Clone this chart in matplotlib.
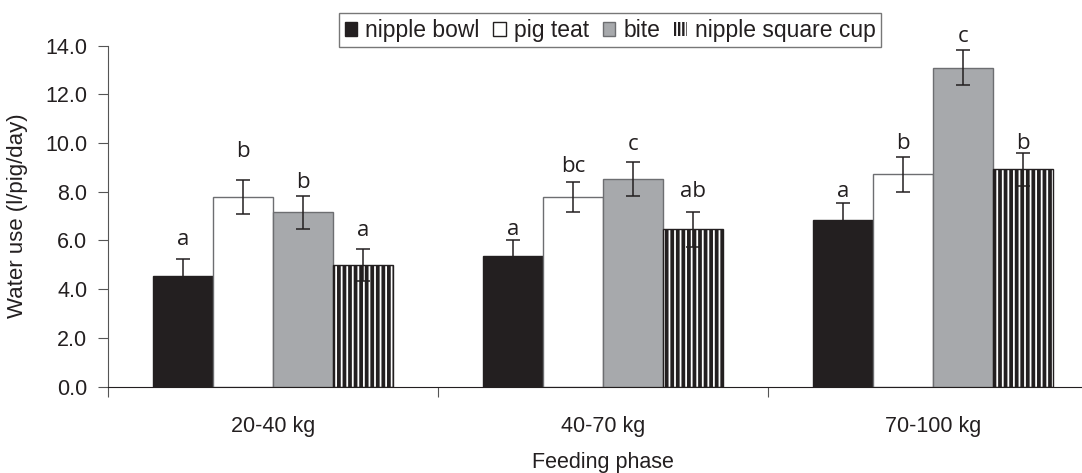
import matplotlib
matplotlib.use("Agg")
import matplotlib.pyplot as plt
from matplotlib.patches import Patch
import numpy as np

# ---- data ----
phases = ["20-40 kg", "40-70 kg", "70-100 kg"]
series = ["nipple bowl", "pig teat", "bite", "nipple square cup"]
nipple_bowl = [4.55, 5.37, 6.83]
pig_teat = [7.78, 7.78, 8.72]
bite = [7.16, 8.53, 13.1]
nipple_square_cup = [4.99, 6.45, 8.92]
err_nipple_bowl = [0.70, 0.64, 0.70]
err_pig_teat = [0.70, 0.63, 0.71]
err_bite = [0.67, 0.70, 0.71]
err_nipple_square_cup = [0.65, 0.71, 0.69]
letters_nipple_bowl = ["a", "a", "a"]
letters_pig_teat = ["b", "bc", "b"]
letters_bite = ["b", "c", "c"]
letters_nipple_square_cup = ["a", "ab", "b"]
yticks = [0, 2, 4, 6, 8, 10, 12, 14]

values = [nipple_bowl, pig_teat, bite, nipple_square_cup]
errors = [err_nipple_bowl, err_pig_teat, err_bite, err_nipple_square_cup]
letters = [letters_nipple_bowl, letters_pig_teat, letters_bite, letters_nipple_square_cup]

# ---- style ----
dark = "#231f20"
grey = "#a7a9ac"
edge = "#6d6e71"
plt.rcParams["font.family"] = ["Liberation Sans", "DejaVu Sans"]
plt.rcParams["hatch.linewidth"] = 1.3

W, H = 1082, 473
fig = plt.figure(figsize=(W / 100, H / 100), dpi=100)
ax = fig.add_axes([108 / W, 1 - 386.5 / H, 990 / W, 340.8 / H])

x = np.arange(len(phases))
bw = 0.1818
offsets = [-1.5, -0.5, 0.5, 1.5]
faces = [dark, "white", grey, dark]
# letter offsets (pixels above error bar top), purely layout
letter_pad = [[13.7, 5, 6.3], [23, 10, 8.4], [7.4, 11.7, 8], [13, 15, 4]]

for i in range(4):
    xs = x + offsets[i] * bw
    if i == 3:
        ax.bar(xs, values[i], bw, color=dark, edgecolor="white", hatch="|||",
               linewidth=0, zorder=2)
        ax.bar(xs, values[i], bw, fill=False, edgecolor=dark, linewidth=1.0, zorder=3)
    else:
        ax.bar(xs, values[i], bw, color=faces[i],
               edgecolor=(dark if i == 0 else edge), linewidth=1.0, zorder=2)
    ax.errorbar(xs, values[i], yerr=errors[i], fmt="none", ecolor=dark,
                elinewidth=1.1, capsize=4.7, capthick=1.1, zorder=4)
    for j in range(len(phases)):
        top = values[i][j] + errors[i][j]
        ax.annotate(letters[i][j], (xs[j], top), xytext=(0, letter_pad[i][j] * 0.72),
                    textcoords="offset points", ha="center", va="baseline",
                    fontsize=16, family=["Open Sans", "DejaVu Sans"], color=dark)

ax.set_xlim(-0.5, 2.5)
ax.set_ylim(0, 14)
ax.set_yticks(yticks)
ax.set_yticklabels([f"{v:.1f}" for v in yticks], fontsize=15.5, color=dark)
ax.set_xticks([-0.5, 0.5, 1.5, 2.5])
ax.set_xticklabels([])
ax.set_xticks(x, minor=True)
ax.set_xticklabels(phases, minor=True, fontsize=15.5, color=dark)
ax.tick_params(axis="x", which="minor", length=0, pad=21)
ax.tick_params(axis="x", which="major", length=7, direction="out", color="#555555")
ax.tick_params(axis="y", length=7, direction="out", pad=8, color="#555555")
for s in ["top", "right"]:
    ax.spines[s].set_visible(False)
ax.spines["left"].set_color("#555555")
ax.spines["bottom"].set_color(dark)
ax.set_ylabel("Water use (l/pig/day)", fontsize=16, color=dark, labelpad=12)
ax.set_xlabel("Feeding phase", fontsize=15.5, color=dark, labelpad=11)

handles = [
    Patch(facecolor=dark, edgecolor=dark),
    Patch(facecolor="white", edgecolor=dark),
    Patch(facecolor=grey, edgecolor=edge),
    Patch(facecolor=dark, edgecolor="white", hatch="||||", linewidth=0),
]
leg = fig.legend(handles, series, loc="upper center", bbox_to_anchor=(610 / W, 1 - 13 / H),
                 ncol=4, frameon=True, fancybox=False, fontsize=16.5,
                 handlelength=0.55, handleheight=0.55, handletextpad=0.35,
                 columnspacing=0.6, borderpad=0.25, borderaxespad=0)
leg.get_frame().set_edgecolor("#555555")
leg.get_frame().set_linewidth(1.0)
for t in leg.get_texts():
    t.set_color(dark)

fig.savefig("out.png", dpi=100)
